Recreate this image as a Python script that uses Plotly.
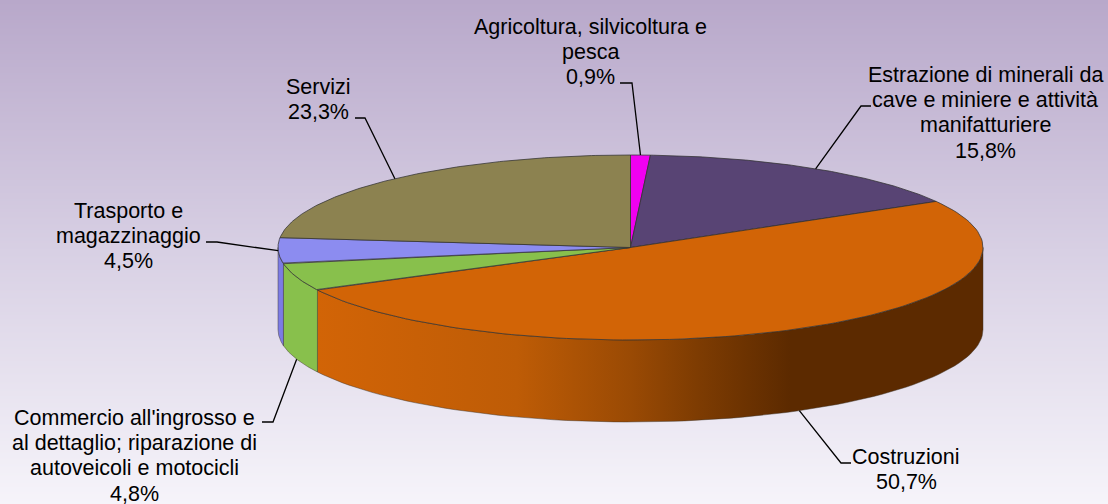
import numpy as np
import plotly.graph_objects as go

categories = ["Agricoltura, silvicoltura e<br>pesca",
              "Estrazione di minerali da<br>cave e miniere e attività<br>manifatturiere",
              "Costruzioni",
              "Commercio all'ingrosso e<br>al dettaglio; riparazione di<br>autoveicoli e motocicli",
              "Trasporto e<br>magazzinaggio",
              "Servizi"]
values = [0.9, 15.8, 50.7, 4.8, 4.5, 23.3]
colors = ["#F000F0", "#584474", "#D26406", "#88C04C", "#8C8CF0", "#8C8250"]
wall_colors = ["#F000F0", "#584474", "#D26406", "#88C04C", "#7C7CE4", "#8C8250"]

# drawing frame of the pie, in pixels of the page
W, H = 1108, 504
CX, CY, RX, RY, DEPTH = 630.5, 247.5, 352.5, 92.5, 82
FONT = "Liberation Sans"
FS = 21.5
LINE = 25.2

# label centre (x, first-line centre y) and the elbow of each leader
label_xy = [(590, 27), (985, 75), (906, 457), (134, 418), (128, 211), (318, 87)]
elbow = [[(620, 83), (632, 83)],
         [(871, 106), (861, 106)],
         [(851, 463), (841, 463)],
         [(262, 422), (273, 422)],
         [(206, 242), (217, 242)],
         [(355, 118), (365, 118)]]
leader_on_wall = [False, False, True, True, False, False]


def pt(deg):
    a = np.radians(deg)
    return CX + RX * np.sin(a), CY - RY * np.cos(a)


fig = go.Figure()
# background gradient
fig.add_trace(go.Heatmap(x=[0, W], y=[0, H], z=[[0, 0], [1, 1]], zsmooth="best",
                         colorscale=[[0, "#B8A8CA"], [0.5, "#D8D0E4"], [1, "#F6F4FA"]],
                         showscale=False, hoverinfo="skip"))

total = sum(values)
edges = np.cumsum([0] + values) / total * 360
mids = (edges[:-1] + edges[1:]) / 2
OUT = "rgba(50,50,50,0.75)"

# side walls (only the front half, 90-270 deg)
for i, c in enumerate(wall_colors):
    a0, a1 = max(edges[i], 90), min(edges[i + 1], 270)
    if a1 <= a0:
        continue
    t = np.linspace(a0, a1, 80)
    xs, ys = pt(t)
    px = np.r_[xs, xs[::-1], xs[0]]
    py = np.r_[ys, ys[::-1] + DEPTH, ys[0]]
    kw = dict(fillcolor=c)
    if i == 2:
        x0, x1 = xs.min(), xs.max()
        kw = dict(fillgradient=dict(type="horizontal", start=x0, stop=x1, colorscale=[
            [0, "#D26406"], [0.3, "#BE5C06"], [0.47, "#9A4A04"], [0.57, "#7E3C02"],
            [0.71, "#5C2A00"], [1, "#5C2A00"]]))
    fig.add_trace(go.Scatter(x=px, y=py, mode="lines", fill="toself",
                             line=dict(color="rgba(60,50,40,0.45)", width=1),
                             hoverinfo="skip", showlegend=False, **kw))

# top faces
for i, c in enumerate(colors):
    t = np.linspace(edges[i], edges[i + 1], 120)
    xs, ys = pt(t)
    fig.add_trace(go.Scatter(x=np.r_[CX, xs, CX], y=np.r_[CY, ys, CY], mode="lines",
                             fill="toself", fillcolor=c, line=dict(color=OUT, width=1),
                             hoverinfo="skip", showlegend=False))

# leaders
for i, m in enumerate(mids):
    x, y = pt(m)
    if leader_on_wall[i]:
        y = y + DEPTH
    lx = [p[0] for p in elbow[i]] + [x]
    ly = [p[1] for p in elbow[i]] + [y]
    fig.add_trace(go.Scatter(x=lx, y=ly, mode="lines", line=dict(color="#000", width=1.3),
                             hoverinfo="skip", showlegend=False))

# labels
pct = [f"{v:.1f}".replace(".", ",") + "%" for v in values]
for name, p, (lx, ly) in zip(categories, pct, label_xy):
    lines = name.split("<br>") + [p]
    for k, s in enumerate(lines):
        fig.add_annotation(x=lx, y=ly + LINE * k, text=s, showarrow=False, xanchor="center",
                           yanchor="middle", font=dict(family=FONT, size=FS, color="#000"))

fig.update_layout(width=W, height=H, margin=dict(l=0, r=0, t=0, b=0), showlegend=False,
                  paper_bgcolor="#FFFFFF", plot_bgcolor="#FFFFFF",
                  xaxis=dict(range=[0, W], visible=False, fixedrange=True),
                  yaxis=dict(range=[H, 0], visible=False, fixedrange=True))
fig.write_html("out.html", config={"displayModeBar": False},
               post_script="document.body.style.margin='0';document.body.style.overflow='hidden';")
